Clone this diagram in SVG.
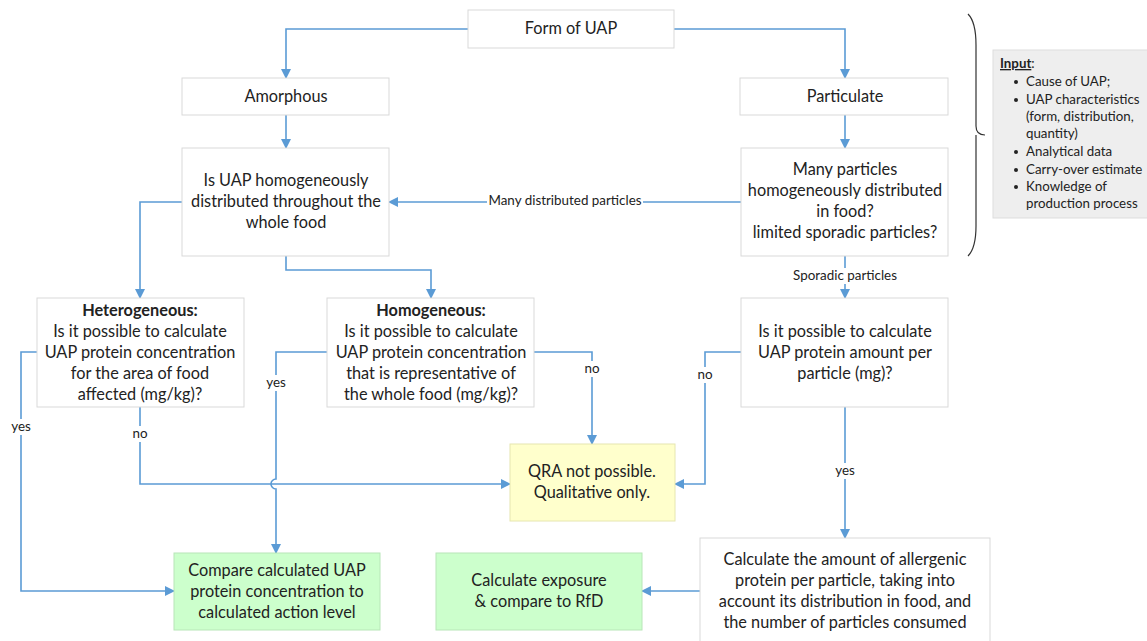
<svg xmlns="http://www.w3.org/2000/svg" width="1147" height="641" viewBox="0 0 1147 641">
<defs>
<marker id="arr" viewBox="0 0 10 10" refX="9" refY="5" markerWidth="10" markerHeight="10" markerUnits="userSpaceOnUse" orient="auto">
<path d="M0,0 L10,5 L0,10 z" fill="#5b9bd5"/>
</marker>
<style>
.box{fill:#ffffff;stroke:#d9d9d9;stroke-width:1}
.yel{fill:#ffffcc;stroke:#e6e6b0;stroke-width:1}
.grn{fill:#ccffcc;stroke:#b8e6b8;stroke-width:1}
.gry{fill:#eeeeee;stroke:#dddddd;stroke-width:1}
.t{font-family:Lato,"Open Sans","Liberation Sans",sans-serif;font-size:16.3px;fill:#222;text-anchor:middle}
.b{font-weight:bold}
.l{font-family:Lato,"Open Sans","Liberation Sans",sans-serif;font-size:13.4px;fill:#222;text-anchor:middle}
.i{font-family:Lato,"Open Sans","Liberation Sans",sans-serif;font-size:13.3px;fill:#222}
.c{fill:none;stroke:#5b9bd5;stroke-width:1.6}
</style>
</defs>
<rect width="1147" height="641" fill="#ffffff"/>
<g id="connectors">
<path class="c" d="M468,29 H286 V78" marker-end="url(#arr)"/>
<path class="c" d="M674,29 H845 V78" marker-end="url(#arr)"/>
<path class="c" d="M286,115 V148" marker-end="url(#arr)"/>
<path class="c" d="M845,115 V148" marker-end="url(#arr)"/>
<path class="c" d="M741,202 H389" marker-end="url(#arr)"/>
<path class="c" d="M286,256 V270 H431 V298" marker-end="url(#arr)"/>
<path class="c" d="M182,202 H140 V298" marker-end="url(#arr)"/>
<path class="c" d="M845,256 V298" marker-end="url(#arr)"/>
<path class="c" d="M37,352 H21 V591 H174" marker-end="url(#arr)"/>
<path class="c" d="M140,407 V484 H510" marker-end="url(#arr)"/>
<path class="c" d="M327,352 H276 V479 A5,5 0 0 0 276,489 V553" marker-end="url(#arr)"/>
<path class="c" d="M534,352 H592 V444" marker-end="url(#arr)"/>
<path class="c" d="M741,352 H705 V484 H675" marker-end="url(#arr)"/>
<path class="c" d="M845,407 V538" marker-end="url(#arr)"/>
<path class="c" d="M700,591 H642" marker-end="url(#arr)"/>
<rect x="487" y="193" width="156" height="16" fill="#ffffff"/>
<text class="l" x="565" y="205">Many distributed particles</text>
<rect x="790" y="268" width="110" height="16" fill="#ffffff"/>
<text class="l" x="845" y="280">Sporadic particles</text>
<rect x="10" y="419" width="22" height="16" fill="#ffffff"/>
<text class="l" x="21" y="431">yes</text>
<rect x="130" y="426" width="20" height="16" fill="#ffffff"/>
<text class="l" x="140" y="438">no</text>
<rect x="265" y="375" width="22" height="16" fill="#ffffff"/>
<text class="l" x="276" y="387">yes</text>
<rect x="582" y="361" width="20" height="16" fill="#ffffff"/>
<text class="l" x="592" y="373">no</text>
<rect x="695" y="367" width="20" height="16" fill="#ffffff"/>
<text class="l" x="705" y="379">no</text>
<rect x="834" y="463" width="22" height="16" fill="#ffffff"/>
<text class="l" x="845" y="475">yes</text>
</g>
<g id="form">
<rect class="box" x="468" y="10" width="206" height="38"/>
<text class="t" x="571" y="34">Form of UAP</text>
</g>
<g id="amorphous">
<rect class="box" x="182" y="78" width="207" height="37"/>
<text class="t" x="286" y="102">Amorphous</text>
</g>
<g id="particulate">
<rect class="box" x="740" y="78" width="208" height="37"/>
<text class="t" x="845" y="102">Particulate</text>
</g>
<g id="homog-q">
<rect class="box" x="182" y="148" width="207" height="108"/>
<text class="t" x="286" y="186">Is UAP homogeneously</text>
<text class="t" x="286" y="207">distributed throughout the</text>
<text class="t" x="286" y="228">whole food</text>
</g>
<g id="many-q">
<rect class="box" x="741" y="148" width="207" height="108"/>
<text class="t" x="845" y="175">Many particles</text>
<text class="t" x="845" y="196">homogeneously distributed</text>
<text class="t" x="845" y="217">in food?</text>
<text class="t" x="845" y="238">limited sporadic particles?</text>
</g>
<g id="heterogeneous">
<rect class="box" x="37" y="298" width="207" height="109"/>
<text class="t b" x="140" y="316">Heterogeneous:</text>
<text class="t" x="140" y="337">Is it possible to calculate</text>
<text class="t" x="140" y="358">UAP protein concentration</text>
<text class="t" x="140" y="379">for the area of food</text>
<text class="t" x="140" y="400">affected (mg/kg)?</text>
</g>
<g id="homogeneous">
<rect class="box" x="327" y="298" width="207" height="109"/>
<text class="t b" x="431" y="316">Homogeneous:</text>
<text class="t" x="431" y="337">Is it possible to calculate</text>
<text class="t" x="431" y="358">UAP protein concentration</text>
<text class="t" x="431" y="379">that is representative of</text>
<text class="t" x="431" y="400">the whole food (mg/kg)?</text>
</g>
<g id="particle-q">
<rect class="box" x="741" y="298" width="207" height="109"/>
<text class="t" x="845" y="337">Is it possible to calculate</text>
<text class="t" x="845" y="358">UAP protein amount per</text>
<text class="t" x="845" y="379">particle (mg)?</text>
</g>
<g id="qra">
<rect class="yel" x="510" y="444" width="165" height="77"/>
<text class="t" x="592" y="477">QRA not possible.</text>
<text class="t" x="592" y="498">Qualitative only.</text>
</g>
<g id="compare">
<rect class="grn" x="174" y="553" width="206" height="77"/>
<text class="t" x="277" y="576">Compare calculated UAP</text>
<text class="t" x="277" y="597">protein concentration to</text>
<text class="t" x="277" y="618">calculated action level</text>
</g>
<g id="exposure">
<rect class="grn" x="436" y="553" width="206" height="77"/>
<text class="t" x="539" y="586">Calculate exposure</text>
<text class="t" x="539" y="607">&amp; compare to RfD</text>
</g>
<g id="amount">
<rect class="box" x="700" y="538" width="290" height="110"/>
<text class="t" x="845" y="565">Calculate the amount of allergenic</text>
<text class="t" x="845" y="586">protein per particle, taking into</text>
<text class="t" x="845" y="607">account its distribution in food, and</text>
<text class="t" x="845" y="628">the number of particles consumed</text>
</g>
<g id="input">
<path d="M968,14 Q976,22 976,45 V126 Q976,135 985,135 M976,135 Q976,144 976,150 V226 Q976,248 968,256" fill="none" stroke="#333" stroke-width="1.2"/>
<rect class="gry" x="993" y="50" width="160" height="168"/>
<text class="i" x="1000" y="68"><tspan font-weight="bold" text-decoration="underline">Input</tspan>:</text>
<circle cx="1016" cy="82" r="2" fill="#222"/>
<circle cx="1016" cy="100" r="2" fill="#222"/>
<circle cx="1016" cy="152" r="2" fill="#222"/>
<circle cx="1016" cy="170" r="2" fill="#222"/>
<circle cx="1016" cy="187" r="2" fill="#222"/>
<text class="i" x="1026" y="86">Cause of UAP;</text>
<text class="i" x="1026" y="104">UAP characteristics</text>
<text class="i" x="1026" y="121">(form, distribution,</text>
<text class="i" x="1026" y="138">quantity)</text>
<text class="i" x="1026" y="156">Analytical data</text>
<text class="i" x="1026" y="174">Carry-over estimate</text>
<text class="i" x="1026" y="191">Knowledge of</text>
<text class="i" x="1026" y="208">production process</text>
</g>
</svg>
